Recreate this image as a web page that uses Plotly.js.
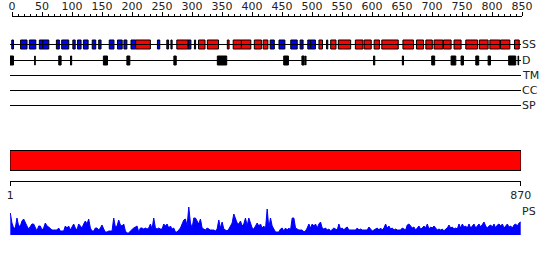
<!DOCTYPE html>
<html><head><meta charset="utf-8">
<script src="https://cdn.plot.ly/plotly-3.0.1.min.js"></script>
<style>html,body{margin:0;padding:0;background:#fff}#chart{width:550px;height:260px}</style>
</head><body><div id="chart"></div>
<script>
// ---- data ----
const seqLength = 870;
const rulerTicks = [0, 850];            // ruler range (labels every 50)
const endTickVals = [1, 870];
const endTickText = ['1', '870'];

// secondary structure elements (E = strand, H = helix)
const ssStart = [4,19,34,51,57,80,89,108,116,126,141,152,170,184,195,207,215,252,268,275,285,304,315,322,337,371,381,395,417,432,444,459,479,495,508,513,527,540,547,560,589,604,621,634,670,693,709,723,739,757,777,800,818,836,860];
const ssEnd   = [6,29,44,56,66,84,100,111,121,133,146,155,177,191,199,214,239,255,270,276,303,308,316,332,355,373,394,410,428,439,450,468,489,499,512,520,532,541,555,580,601,615,629,661,687,704,719,737,751,768,796,814,834,851,867];
const ssType  = ['E','E','E','E','E','E','E','E','E','E','E','E','E','E','E','E','H','E','E','E','H','E','E','H','H','H','H','H','H','H','E','E','E','E','E','E','H','E','H','H','H','H','H','H','H','H','H','H','H','H','H','H','H','H','H'];

// disordered regions
const disStart = [1,43,84,104,160,200,280,354,467,498,504,620,669,719,752,769,794,815,850,866];
const disEnd   = [6,43,87,105,166,204,283,369,474,501,504,621,670,723,759,772,798,818,861,866];

// domain bar
const domStart = [1];
const domEnd = [870];

// empty tracks
const trackNames = ['SS','D','TM','CC','SP'];

// PS profile (evenly spaced along the sequence)
const psValues = [22,12,7,7,17,9,9,14,16,12,9,6,9,11,11,7,4,9,9,5,7,12,9,8,6,5,5,5,5,7,4,4,4,9,7,9,5,8,11,7,5,11,9,7,11,14,11,16,7,4,4,7,7,5,7,10,6,3,3,4,4,4,17,8,9,15,10,9,11,4,2,2,4,6,7,8,9,3,7,7,6,7,6,7,11,6,17,7,6,7,6,6,11,9,11,7,9,6,7,3,3,5,7,11,15,16,9,28,12,7,17,17,14,11,16,7,6,5,7,6,5,5,5,4,6,15,7,13,6,5,4,6,9,12,21,17,12,11,14,9,11,17,9,17,11,7,6,9,12,9,11,7,9,6,26,7,
17,9,6,3,3,3,6,7,4,7,5,7,5,17,17,7,6,5,5,5,3,4,7,11,7,11,9,11,7,11,13,7,6,7,5,6,4,6,7,6,5,11,6,7,5,7,8,5,5,5,5,5,7,5,6,5,5,5,5,8,6,4,5,6,7,5,7,5,7,11,7,9,6,7,5,6,5,5,5,7,6,5,10,11,9,7,8,5,7,9,6,7,9,7,11,6,8,7,9,7,5,6,5,6,4,6,7,10,7,8,6,7,6,11,7,11,8,9,7,11,7,9,11,7,9,11,8,10,13,9,7,9,10,8,11,7,10,11,9,11,7,9,11,8,9,7,10,11,9,12,13];

// ---- style / layout ----
const W = 550, H = 260;
const trackY = {SS:44.5, D:60.5, TM:75.5, CC:90.5, SP:105.5};
const FONT = {family:'DejaVu Sans, Verdana, sans-serif', size:11, color:'#222'};

function barTrace(starts, ends, y, color, w) {
  return {
    type:'bar', orientation:'h', xaxis:'x', yaxis:'y',
    y: starts.map(()=>y),
    base: starts.map(s=>s-0.5),
    x: starts.map((s,i)=>ends[i]-s+1),
    width: starts.map(()=>w),
    marker:{color:color, line:{color:'#000', width:1}},
    hoverinfo:'skip'
  };
}

const traces = [];
// track lines
trackNames.forEach(n=>{
  traces.push({type:'scatter', mode:'lines', xaxis:'x', yaxis:'y',
    x:[0.5, seqLength+0.5], y:[trackY[n], trackY[n]],
    line:{color:'#000', width:1}, hoverinfo:'skip'});
});
// SS
const eI = ssType.map((t,i)=>t==='E'?i:-1).filter(i=>i>=0);
const hI = ssType.map((t,i)=>t==='H'?i:-1).filter(i=>i>=0);
traces.push(barTrace(eI.map(i=>ssStart[i]), eI.map(i=>ssEnd[i]), trackY.SS, '#0000ff', 9));
traces.push(barTrace(hI.map(i=>ssStart[i]), hI.map(i=>ssEnd[i]), trackY.SS, '#ff0000', 9));
// disorder
traces.push(barTrace(disStart, disEnd, trackY.D, '#000', 9));
// domain bar
traces.push(barTrace(domStart, domEnd, 160.5, '#ff0000', 20));
// PS profile
const step = (seqLength-1)/(psValues.length-1);
traces.push({type:'scatter', mode:'lines', xaxis:'x', yaxis:'y2',
  x: psValues.map((v,i)=>1+i*step), y: psValues,
  fill:'tozeroy', fillcolor:'#0000ff', line:{color:'#0000ff', width:1}, hoverinfo:'skip'});
// ruler anchor (invisible)
traces.push({type:'scatter', mode:'markers', xaxis:'x2', yaxis:'y',
  x: rulerTicks, y:[0,0], marker:{opacity:0}, hoverinfo:'skip'});

const annotations = trackNames.map(n=>({
  xref:'x', yref:'y', x: seqLength+0.5, y: trackY[n], text:n,
  xanchor:'left', yanchor:'middle', showarrow:false, font:FONT, borderpad:0, xshift:0
}));
annotations.push({xref:'x', yref:'y2', x: seqLength+0.5, y:24, text:'PS',
  xanchor:'left', yanchor:'middle', showarrow:false, font:FONT, borderpad:0});

const layout = {
  width:W, height:H, margin:{l:0,r:0,t:0,b:0,pad:0},
  paper_bgcolor:'#fff', plot_bgcolor:'rgba(0,0,0,0)',
  showlegend:false, barmode:'overlay', bargap:0,
  xaxis:{domain:[10/W, 521/W], range:[0.5, seqLength+0.5], anchor:'y',
    showline:true, linecolor:'#000', linewidth:1, mirror:false,
    ticks:'outside', ticklen:4, tickcolor:'#000', tickwidth:1,
    tickmode:'array', tickvals:endTickVals, ticktext:endTickText,
    tickfont:FONT, showgrid:false, zeroline:false, fixedrange:true},
  xaxis2:{domain:[12/W, 522/W], range:rulerTicks, anchor:'free', position:244.5/H, side:'top',
    showline:true, linecolor:'#000', linewidth:1,
    ticks:'outside', ticklen:4, tickcolor:'#000', tickwidth:1,
    tickmode:'linear', tick0:0, dtick:50, tickfont:FONT, ticklabelstandoff:-3,
    minor:{dtick:10, ticklen:2, ticks:'outside', tickcolor:'#000', showgrid:false},
    showgrid:false, zeroline:false, fixedrange:true},
  yaxis:{domain:[79/H, 1], range:[181, 0], visible:false, fixedrange:true},
  yaxis2:{domain:[25/H, 53/H], range:[0, 28], visible:false, fixedrange:true},
  annotations: annotations
};
Plotly.newPlot('chart', traces, layout, {staticPlot:true, displayModeBar:false});
</script></body></html>
